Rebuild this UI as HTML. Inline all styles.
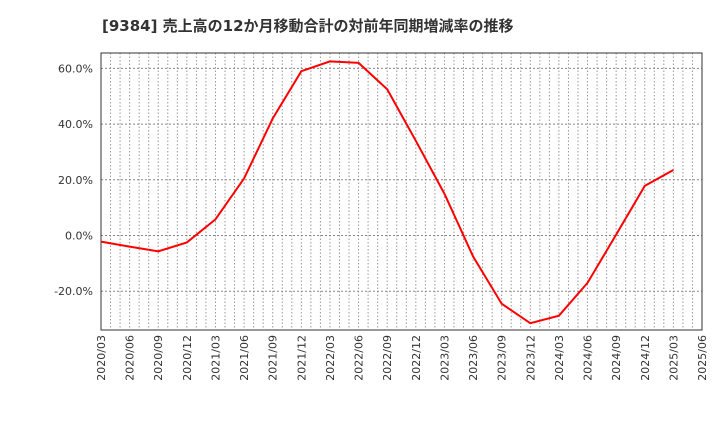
<!DOCTYPE html>
<html><head><meta charset="utf-8"><style>
body{margin:0;background:#fff;width:720px;height:440px;overflow:hidden;font-family:"DejaVu Sans","Noto Sans CJK JP",sans-serif}
</style></head><body>
<svg id="c" width="720" height="440" font-family="DejaVu Sans, Noto Sans CJK JP, sans-serif">
<text x="102" y="31" font-size="15" font-weight="bold" fill="#333">[9384]  売上高の12か月移動合計の対前年同期増減率の推移</text>
</svg>
<script>
const categories=["2020/03","2020/06","2020/09","2020/12","2021/03","2021/06","2021/09","2021/12","2022/03","2022/06","2022/09","2022/12","2023/03","2023/06","2023/09","2023/12","2024/03","2024/06","2024/09","2024/12","2025/03","2025/06"];
const values=[-2.2,-4,-5.7,-2.5,5.8,20.5,42,59,62.5,62,52.5,34,15,-7.5,-24.5,-31.5,-28.8,-17,0.3,17.8,23.5];
const yTicks=[-20,0,20,40,60];
const L=101,R=702,T=53,B=330;
const x=i=>L+(R-L)*i/21;
const y=v=>235.5-v*(55.7/20);
const s=document.getElementById('c');const NS="http://www.w3.org/2000/svg";
function mk(t,a){const e=document.createElementNS(NS,t);for(const k in a)e.setAttribute(k,a[k]);s.appendChild(e);return e;}
for(let m=1;m<63;m++){const l=mk('line',{x1:L+(R-L)*m/63,x2:L+(R-L)*m/63,y1:T,y2:B,stroke:'#999','stroke-dasharray':'1.5,2','stroke-width':1});

}
yTicks.forEach(v=>{const l=mk('line',{x1:L,x2:R,y1:y(v),y2:y(v),stroke:'#888','stroke-dasharray':'2,2'});


const t=mk('text',{x:L-8,y:y(v)+4,'text-anchor':'end','font-size':11,fill:'#333'});t.textContent=v.toFixed(1)+'%';

});
const f=mk('rect',{x:L,y:T,width:R-L,height:B-T,fill:'none',stroke:'#333'});


categories.forEach((c,i)=>{const t=mk('text',{transform:`translate(${x(i)+4},${B+5}) rotate(-90)`,'text-anchor':'end','font-size':11,fill:'#333'});t.textContent=c;

});
const p=mk('polyline',{points:values.map((v,i)=>x(i)+','+y(v)).join(' '),fill:'none',stroke:'#f00','stroke-width':2});


</script>
</body></html>
